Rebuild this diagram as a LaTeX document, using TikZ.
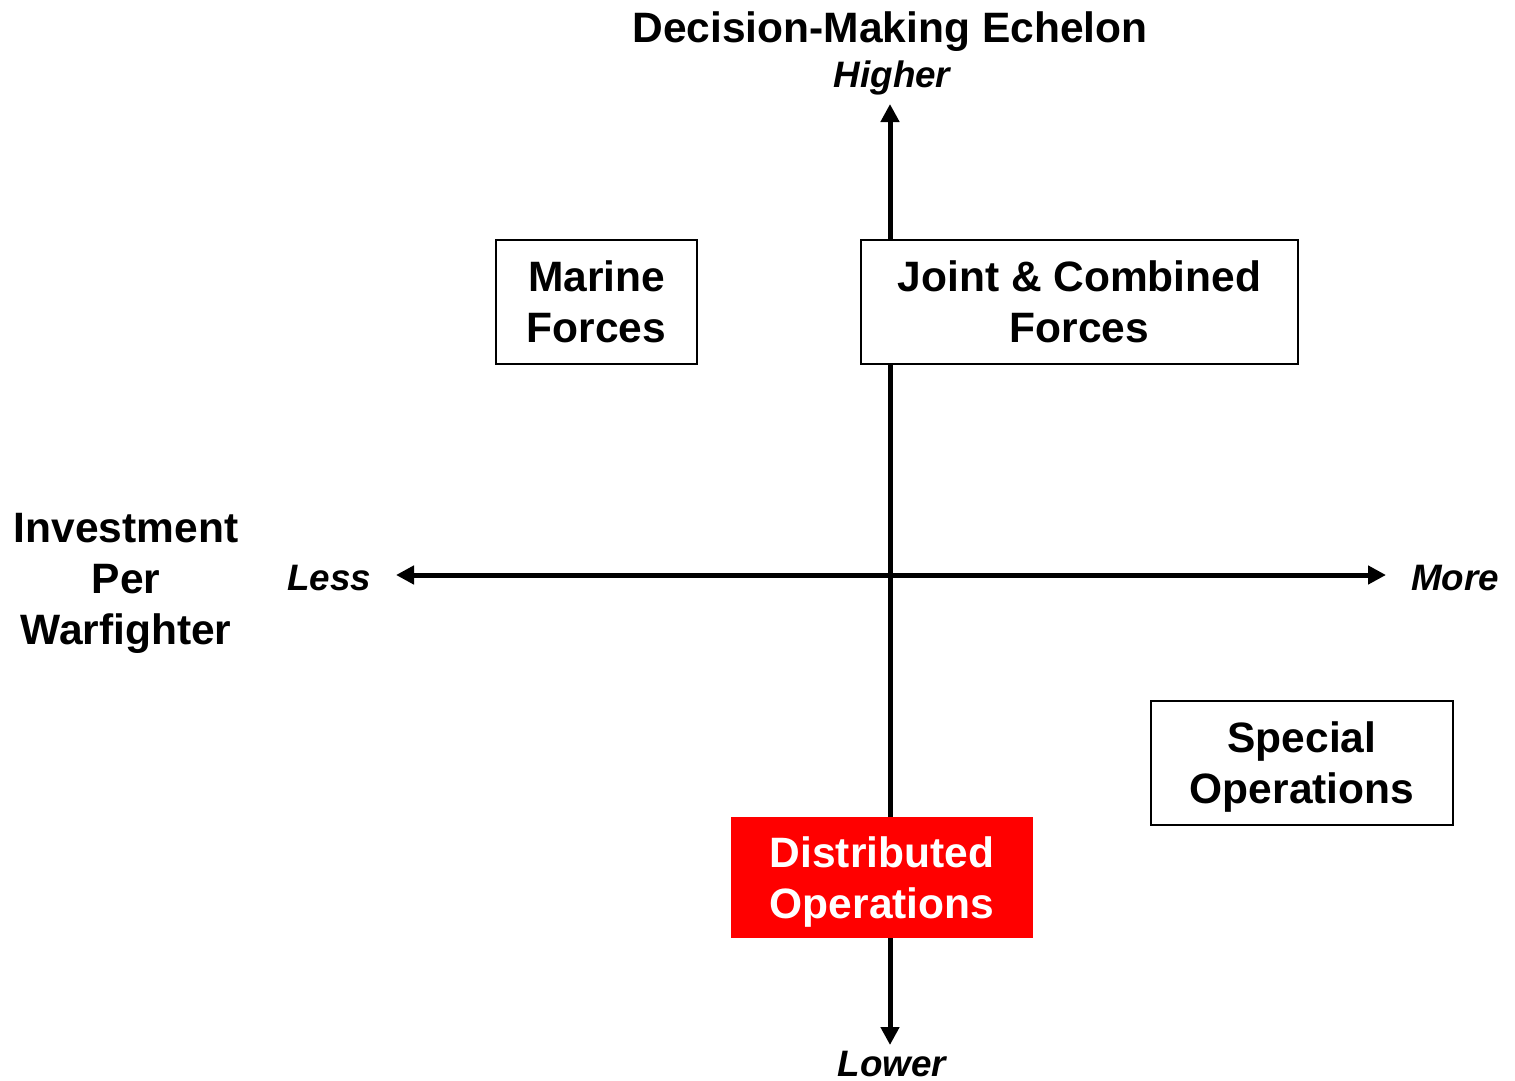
\documentclass[tikz,border=0pt]{standalone}
\usepackage{fontspec}
\setmainfont{Liberation Sans}
\usetikzlibrary{arrows.meta}
\tikzset{
  axis/.style={line width=5pt, {Triangle[length=18pt,width=18pt]}-{Triangle[length=18pt,width=18pt]}},
  bigtxt/.style={font=\fontsize{42.5}{51}\selectfont\bfseries, align=center, inner sep=0pt},
  endlbl/.style={font=\fontsize{36.8}{44}\selectfont\bfseries\itshape, inner sep=0pt, anchor=base},
  quadbox/.style={bigtxt, text depth=0pt, draw=black, line width=1.8pt, fill=white},
  redbox/.style={bigtxt, text depth=0pt, fill=red, text=white},
}
\begin{document}
\begin{tikzpicture}[x=1pt,y=-1pt]
\useasboundingbox (0,0) rectangle (1515,1081);
% axis end points
\coordinate (top) at (890,104);
\coordinate (bottom) at (890,1045);
\coordinate (left) at (396,575);
\coordinate (right) at (1386,575);
\draw[axis] (bottom) -- (top);
\draw[axis] (left) -- (right);
% labels
\node[bigtxt, anchor=base] (title) at (890,43) {Decision-Making Echelon};
\node[endlbl] (higher) at (892,88) {Higher};
\node[endlbl] (lower) at (892,1076) {Lower};
\node[endlbl] (less) at (329,590) {Less};
\node[endlbl] (more) at (1455,590) {More};
\node[bigtxt, anchor=base] (invest) at (126,644) {Investment\\Per\\Warfighter};
% boxes
\node[quadbox, minimum width=201pt, minimum height=124pt] (marine) at (596.5,302) {Marine\\Forces};
\node[quadbox, minimum width=437pt, minimum height=124pt] (joint) at (1079.5,302) {Joint \& Combined\\Forces};
\node[quadbox, minimum width=302pt, minimum height=124pt] (special) at (1302,763) {Special\\Operations};
\node[redbox, minimum width=302pt, minimum height=121pt] (distributed) at (882,877.5) {Distributed\\Operations};
\end{tikzpicture}
\end{document}
